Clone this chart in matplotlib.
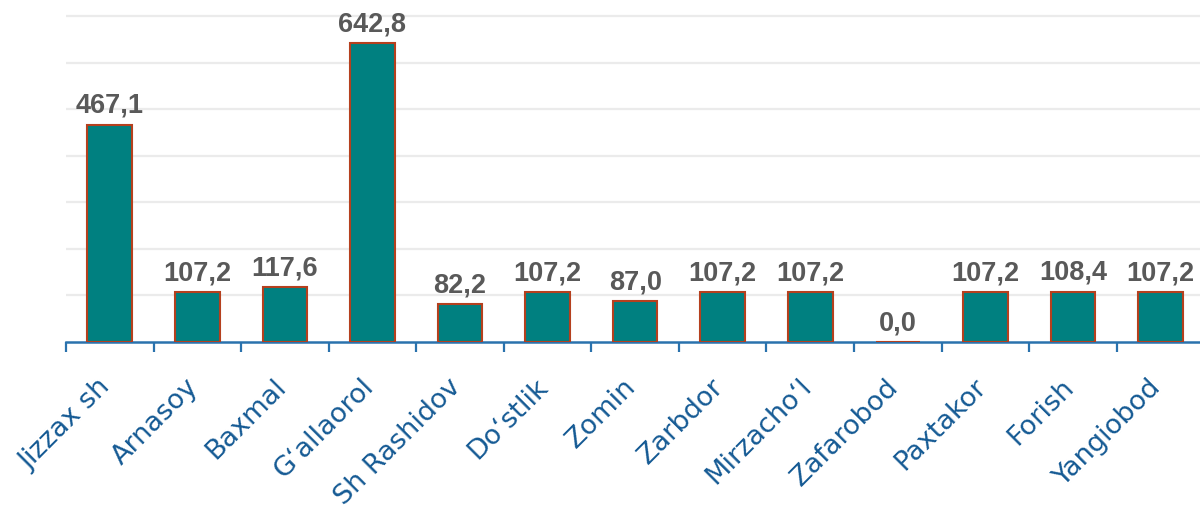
import matplotlib
matplotlib.use("Agg")
import matplotlib.pyplot as plt
import matplotlib.transforms as mtransforms
import numpy as np

districts = ["Jizzax sh", "Arnasoy", "Baxmal", "G\u2018allaorol", "Sh Rashidov",
             "Do\u2018stlik", "Zomin", "Zarbdor", "Mirzacho\u2018l", "Zafarobod",
             "Paxtakor", "Forish", "Yangiobod"]
values = [467.1, 107.2, 117.6, 642.8, 82.2, 107.2, 87.0, 107.2, 107.2, 0.0,
          107.2, 108.4, 107.2]
gridlines = [100, 200, 300, 400, 500, 600, 700]

bar_color = "#008080"
edge_color = "#B5401E"
label_color = "#155A94"
axis_color = "#2A72AD"
value_color = "#595959"

fig = plt.figure(figsize=(12, 5.19), dpi=100)
ax = fig.add_axes([66 / 1200, 1 - 342 / 519, 1138.3 / 1200, 342 / 519])

x = np.arange(len(districts))
ax.bar(x, values, width=0.51, color=bar_color, edgecolor=edge_color,
       linewidth=1.5, zorder=3)

ax.set_xlim(-0.5, len(districts) - 0.5)
ax.set_ylim(0, 734.5)

for g in gridlines:
    ax.axhline(g, color="#EBEBEB", linewidth=1.6, zorder=1)

for xi, v in zip(x, values):
    ax.annotate(f"{v:.1f}".replace(".", ","), (xi, v), xytext=(0, 8.3),
                textcoords="offset points", ha="center", va="baseline",
                fontsize=19.5, fontweight="bold", color=value_color,
                family="Liberation Sans", zorder=4)

for side in ("top", "right", "left"):
    ax.spines[side].set_visible(False)
ax.spines["bottom"].set_color(axis_color)
ax.spines["bottom"].set_linewidth(1.8)
ax.set_yticks([])

ax.set_xticks(np.arange(len(districts) + 1) - 0.5, minor=False)
ax.set_xticklabels([])
ax.tick_params(axis="x", which="major", direction="out", length=7.5,
               width=1.6, color=axis_color)
ax.set_xticks(x, minor=True)
ax.set_xticklabels(districts, minor=True, rotation=45, ha="right", va="top",
                   rotation_mode="anchor", fontsize=19.5, color=label_color,
                   family="DejaVu Sans")
ax.tick_params(axis="x", which="minor", length=0, pad=23)

shift = mtransforms.ScaledTranslation(-12 / 100, 0, fig.dpi_scale_trans)
for lbl in ax.get_xticklabels(minor=True):
    lbl.set_transform(lbl.get_transform() + shift)

fig.savefig("out.png", dpi=100)
